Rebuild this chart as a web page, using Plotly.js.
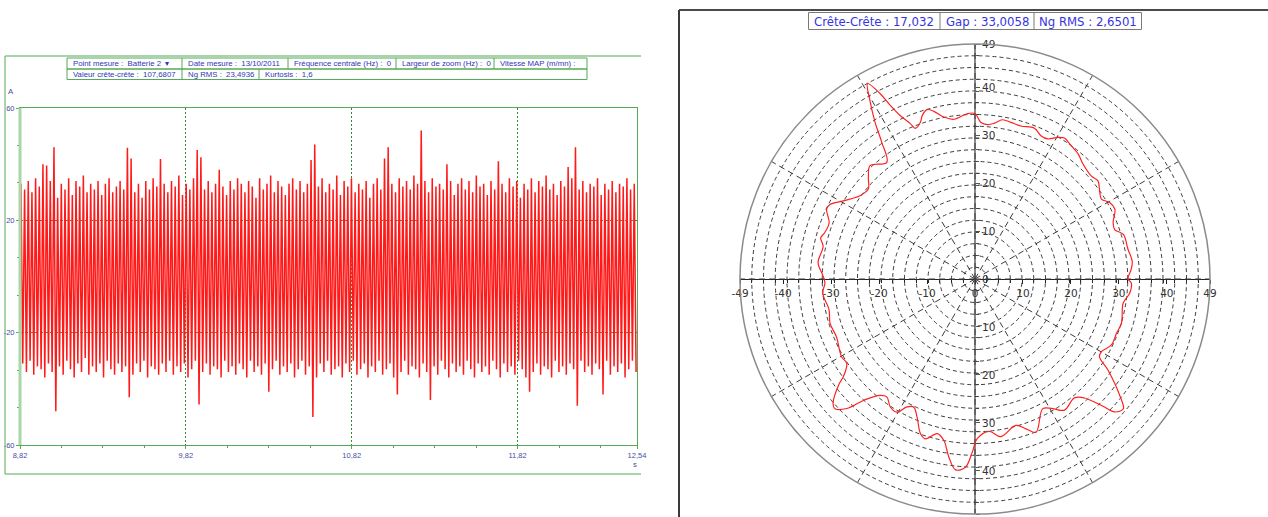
<!DOCTYPE html>
<html>
<head>
<meta charset="utf-8">
<script src="https://cdn.plot.ly/plotly-3.0.1.min.js"></script>
<style>
html,body{margin:0;padding:0;background:#fff;}
#chart{width:1268px;height:517px;}
</style>
</head>
<body>
<div id="chart"></div>
<script>
// ---------------- DATA ----------------
const timeStart = 8.82;
const timeEnd = 12.54;
// positive peak of each cycle (A)
const peakHi = [
 33,31,34,30,35,32,40,39.5,34,46,
 28,33,31,35,29,34,32,36,30,33,
 31,34,29,33,35,30,32,34,31,45.8,
 42,30,33,28,34,31,35,32,41.8,33,
 30,34,32,36,29,33,31,35,45,42.5,
 31,34,30,33,38,32,29,34,31,35,
 33,30,34,32,28,35,31,33,36,30,
 34,32,29,33,35,31,34,30,33,41.5,
 47,32,35,30,33,31,36,29,34,32,
 35,30,33,31,34,28,33,35,31,42,
 46,33,30,35,32,34,31,36,33,52,
 34,30,35,32,33,31,40,34,29,33,
 35,31,34,30,36,32,33,29,34,31,
 41,33,30,35,32,34,28,33,31,35,
 30,34,32,36,31,33,29,34,32,39,
 35,46,31,34,30,33,32,35,29,33,
 31,34,30,33,32,35,31,33
];
// negative peak of each cycle (A)
const peakLo = [
 -31,-34,-30,-35,-32,-33,-36,-31,-34,-48,
 -32,-35,-30,-33,-36,-31,-34,-29,-35,-32,
 -34,-31,-36,-30,-33,-35,-31,-34,-32,-43,
 -35,-31,-34,-30,-36,-32,-33,-35,-31,-34,
 -30,-35,-32,-34,-31,-36,-33,-30,-45.6,-34,
 -31,-35,-32,-33,-36,-30,-34,-32,-35,-31,
 -33,-36,-30,-34,-32,-35,-31,-41,-33,-30,
 -35,-32,-34,-31,-36,-33,-30,-35,-32,-50,
 -36,-31,-34,-30,-35,-33,-32,-36,-31,-34,
 -30,-35,-33,-31,-36,-32,-34,-30,-35,-33,
 -31,-36,-42,-34,-30,-35,-32,-33,-36,-31,
 -34,-44,-32,-35,-30,-33,-36,-31,-34,-32,
 -35,-30,-33,-36,-31,-34,-32,-35,-30,-33,
 -36,-31,-34,-32,-35,-30,-33,-36,-41,-34,
 -31,-35,-32,-33,-36,-30,-34,-32,-35,-31,
 -33,-46,-30,-34,-32,-35,-31,-33,-42,-30,
 -35,-32,-34,-31,-36,-33,-30,-34
];
const xTickVals = [8.82, 9.82, 10.82, 11.82, 12.54];
const xTickText = ['8,82', '9,82', '10,82', '11,82', '12,54'];
const yTickVals = [-60, -20, 20, 60];
const yTickText = ['-60', '-20', '20', '60'];

// orbit (polar) curve: angle in degrees, radius
const polarTheta = [0,3.4,6.4,10.9,16.7,19.5,22.2,26.5,29.6,32.3,35.8,38.6,41.6,46.8,50.5,55.0,57.6,59.7,62.6,65.3,68.5,73.3,77.1,80.2,83.0,85.4,87.9,90,92.7,97.5,100.9,103.8,105.8,107.9,109.2,111.6,112.6,114.6,116.0,117.1,118.8,120.3,122.5,124.3,127.1,132.8,136.4,139.9,144.1,149.3,152.8,154.8,158.9,162.9,165.1,167.8,174.1,178.4,181.5,185.3,191.9,197.0,202.6,210.2,213.3,216.6,217.6,221.3,222.8,225.3,227.4,230.8,233.2,236.5,239.6,242.0,244.4,247.2,250.6,252.8,256.3,259.1,261.7,264.2,267.1,269.1,270.8,275.3,279.3,285.6,288.8,291.7,297.6,300.9,304.3,309.9,312.6,315.0,316.4,318.8,321.2,325.6,328.0,330.1,334.2,339.0,343.2,350.7,354.8,358.5,360];
const polarR = [31.9,32.6,33.0,32.5,32.3,30.9,31.1,32.6,32.3,31.2,32.0,32.8,32.4,32.9,33.8,34.4,34.8,34.2,32.9,32.9,33.8,33.3,33.5,33.7,32.7,32.3,32.7,34.5,34.5,33.6,34.4,36.0,36.7,35.8,34.6,33.8,35.1,37.5,40.3,43.4,46.5,43.6,38.8,34.5,30.5,32.2,30.7,29.1,29.6,31.9,34.0,34.2,32.6,32.8,33.3,32.4,32.9,31.8,31.3,31.9,31.1,31.6,31.3,32.2,32.0,34.2,35.7,39.4,39.8,38.0,34.4,31.3,30.7,32.0,32.2,30.2,29.6,31.2,34.2,34.9,33.2,34.3,37.6,40.0,39.3,36.1,33.3,31.9,33.3,31.7,33.0,34.4,30.5,31.5,33.1,32.3,33.7,37.3,40.2,41.1,38.7,33.6,30.6,30.4,31.6,31.6,31.9,31.3,32.4,32.6,31.9];
const orbitTicks = [-49,-40,-30,-20,-10,0,10,20,30,40,49];
const orbitXText = ['-49','-40','-30','-20','-10','0','10','20','30','40','49'];
const orbitYText = ['49','40','30','20','10','0','10','20','30','40','49'];

// ---------------- BUILD ----------------
const W = 1268, H = 517;
const px = x => x / W;
const py = y => 1 - y / H;

const N = peakHi.length;
const dt = (timeEnd - timeStart) / N;
const waveX = [], waveY = [];
for (let i = 0; i < N; i++) {
  waveX.push(timeStart + (i + 0.25) * dt); waveY.push(peakHi[i]);
  waveX.push(timeStart + (i + 0.75) * dt); waveY.push(peakLo[i]);
}

const green = '#55aa55';
const tickBlue = '#4a4aa6';
const hdrBlue = '#3434b8';

const traces = [
  {type:'scatter', mode:'lines', x: waveX, y: waveY, xaxis:'x', yaxis:'y',
   line:{color:'#ff1a1a', width:1.5}, hoverinfo:'skip'},
  {type:'scatter', mode:'lines', x: [], y: [], xaxis:'x2', yaxis:'y2', hoverinfo:'skip'},
  {type:'scatterpolar', mode:'lines', r: polarR, theta: polarTheta, subplot:'polar',
   line:{color:'#ff2020', width:1.2, shape:'spline', smoothing:1}, hoverinfo:'skip'}
];

const polDom = {x:[px(740), px(1210)], y:[py(514), py(44)]};
const cx = 975, cy = 279;

const shapes = [];
const annotations = [];
function rectLine(x0,y0,x1,y1,color,width){
  shapes.push({type:'line', xref:'paper', yref:'paper', x0:px(x0), y0:py(y0), x1:px(x1), y1:py(y1),
    line:{color:color, width:width}});
}
function rect(x0,y0,x1,y1,color,width){
  shapes.push({type:'rect', xref:'paper', yref:'paper', x0:px(x0), y0:py(y0), x1:px(x1), y1:py(y1),
    line:{color:color, width:width}, fillcolor:'rgba(0,0,0,0)'});
}
function label(x,y,text,opts){
  opts = opts||{};
  annotations.push({xref:'paper', yref:'paper', x:px(x), y:py(y), text:text, showarrow:false,
    xanchor:opts.xa||'left', yanchor:'middle',
    font:{family:opts.family||'Liberation Sans, Arial, sans-serif', size:opts.size||7.8, color:opts.color||hdrBlue}});
}

// left outer frame
rectLine(5,56,641,56,green,1);
rectLine(5,56,5,474,green,1);
rectLine(5,474,641,474,green,1);
// left light band of plot area
rectLine(20,108,20,445,'#a8d8a8',3);
// header table (left)
rect(67,58,587,69,green,1);
rect(67,69,587,79.5,green,1);
[182,288,396,494].forEach(x=>rectLine(x,58,x,69,green,1));
[182,259].forEach(x=>rectLine(x,69,x,79.5,green,1));
label(71,63.5,'Point mesure :  Batterie 2  ▾');
label(186,63.5,'Date mesure :  13/10/2011');
label(292,63.5,'Fréquence centrale (Hz) :  0');
label(400,63.5,'Largeur de zoom (Hz) :  0');
label(498,63.5,'Vitesse MAP (m/mn) :');
label(71,74.5,'Valeur crête-crête :  107,6807');
label(186,74.5,'Ng RMS :  23,4936');
label(263,74.5,'Kurtosis :  1,6');
label(6,92,'A',{color:tickBlue});
label(635,464,'s',{color:tickBlue, xa:'center'});

// right panel border
rectLine(679,10,1268,10,'#4a4a4a',2);
rectLine(679,10,679,517,'#3a3a3a',2);
// right header
rect(808.5,12.5,1141.5,29.5,'#7a7a7a',1);
rectLine(940,12.5,940,29.5,'#7a7a7a',1);
rectLine(1034,12.5,1034,29.5,'#7a7a7a',1);
const rf = {size:13, color:'#3535e0', xa:'center', family:'DejaVu Sans Condensed, Liberation Sans, Arial, sans-serif'};
label(874,21,'Crête-Crête : 17,032',rf);
label(987,21,'Gap : 33,0058',rf);
label(1088,21,'Ng RMS : 2,6501',rf);

const layout = {
  width: W, height: H,
  margin:{l:0,r:0,t:0,b:0},
  paper_bgcolor:'#ffffff',
  plot_bgcolor:'rgba(0,0,0,0)',
  showlegend:false,
  font:{family:'Liberation Sans, Arial, sans-serif'},
  xaxis:{
    domain:[px(20), px(637)], range:[timeStart, timeEnd], anchor:'y',
    tickvals:xTickVals, ticktext:xTickText, tickfont:{size:7.5, color:tickBlue},
    ticks:'outside', ticklen:3, tickcolor:green,
    showline:true, mirror:true, linecolor:green, linewidth:1,
    showgrid:true, gridcolor:'#2f8f2f', griddash:'2px,2px', gridwidth:1,
    zeroline:false, fixedrange:true,
    minor:{dtick:0.25, tick0:timeStart, ticks:'outside', ticklen:2, tickcolor:green, showgrid:false}
  },
  yaxis:{
    domain:[py(445), py(108)], range:[-60,60], anchor:'x',
    tickvals:yTickVals, ticktext:yTickText, tickfont:{size:7.5, color:tickBlue},
    ticks:'outside', ticklen:3, tickcolor:green,
    showline:true, mirror:true, linecolor:green, linewidth:1,
    showgrid:true, gridcolor:'#6e7f32', griddash:'3px,2px', gridwidth:1,
    zeroline:false, fixedrange:true,
    minor:{dtick:40/3, tick0:-60, ticks:'outside', ticklen:2, tickcolor:green, showgrid:false}
  },
  xaxis2:{
    domain:polDom.x, range:[-49,49], anchor:'free', position: 1 - cy/H,
    tickvals:orbitTicks, ticktext:orbitXText,
    tickfont:{size:10.5, color:'#333', family:'DejaVu Sans, sans-serif'},
    ticks:'outside', ticklen:4, tickcolor:'#222',
    showline:true, linecolor:'#222', linewidth:1,
    showgrid:false, zeroline:false, fixedrange:true,
    minor:{dtick:2.45, tick0:0, ticks:'outside', ticklen:3, tickcolor:'#222', showgrid:false}
  },
  yaxis2:{
    domain:polDom.y, range:[-49,49], anchor:'free', position: cx/W, side:'right',
    tickvals:orbitTicks, ticktext:orbitYText.slice().reverse(),
    tickfont:{size:10.5, color:'#333', family:'DejaVu Sans, sans-serif'},
    ticks:'outside', ticklen:4, tickcolor:'#555',
    showline:true, linecolor:'#8a8a8a', linewidth:2,
    showgrid:false, zeroline:false, fixedrange:true,
    minor:{dtick:2.45, tick0:0, ticks:'outside', ticklen:3, tickcolor:'#555', showgrid:false}
  },
  polar:{
    domain:polDom,
    bgcolor:'rgba(0,0,0,0)',
    radialaxis:{range:[0,49], dtick:2.45, tick0:0, showticklabels:false, ticks:'',
      showline:false, gridcolor:'#3c3c3c', griddash:'4px,3px', gridwidth:1},
    angularaxis:{dtick:30, rotation:0, direction:'counterclockwise', showticklabels:false, ticks:'',
      showline:true, linecolor:'#8a8a8a', linewidth:1.5,
      gridcolor:'#3c3c3c', griddash:'6px,4px', gridwidth:1}
  },
  shapes: shapes,
  annotations: annotations
};

Plotly.newPlot('chart', traces, layout, {staticPlot:true, displayModeBar:false});
</script>
</body>
</html>
